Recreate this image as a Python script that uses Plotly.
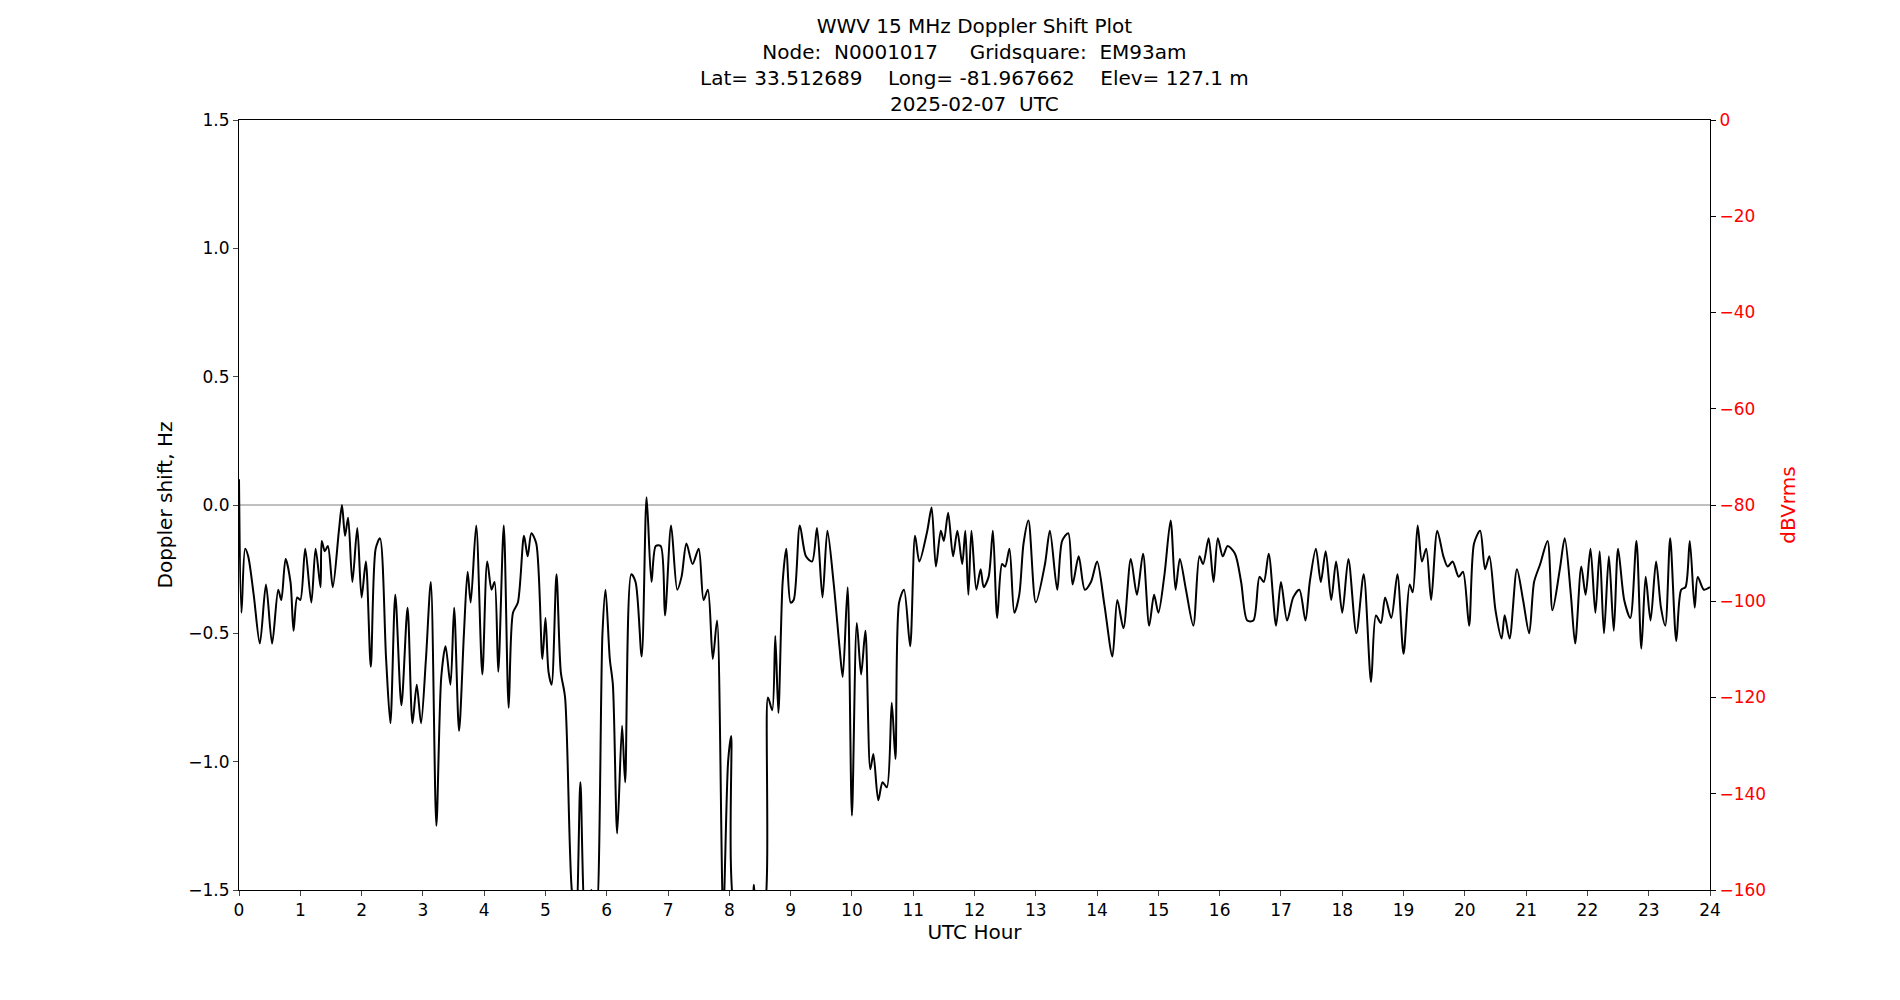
import plotly.graph_objects as go

hours = [0.0,0.04,0.1,0.15,0.24,0.34,0.44,0.54,0.64,0.69,0.76,0.84,0.89,0.95,1.0,1.08,1.18,1.25,1.33,1.35,1.4,1.45,1.53,1.63,1.68,1.73,1.78,1.85,1.93,2.0,2.07,2.15,2.23,2.3,2.4,2.47,2.55,2.65,2.75,2.83,2.9,2.97,3.05,3.13,3.22,3.3,3.37,3.45,3.51,3.59,3.67,3.73,3.78,3.87,3.97,4.05,4.12,4.17,4.23,4.32,4.4,4.47,4.55,4.65,4.71,4.77,4.85,4.95,5.0,5.05,5.1,5.18,5.25,5.32,5.43,5.5,5.57,5.65,5.75,5.83,5.93,5.98,6.05,6.1,6.17,6.25,6.3,6.4,6.47,6.57,6.65,6.73,6.8,6.88,6.95,7.05,7.15,7.22,7.3,7.4,7.5,7.58,7.65,7.73,7.8,7.9,7.98,8.03,8.12,8.35,8.4,8.45,8.55,8.63,8.7,8.75,8.8,8.87,8.93,9.0,9.05,9.15,9.25,9.35,9.43,9.52,9.6,9.7,9.8,9.85,9.93,10.0,10.08,10.15,10.22,10.3,10.35,10.43,10.5,10.57,10.65,10.71,10.77,10.85,10.95,11.03,11.1,11.23,11.3,11.37,11.45,11.5,11.57,11.65,11.72,11.8,11.85,11.9,11.95,12.03,12.1,12.15,12.23,12.3,12.37,12.45,12.5,12.57,12.65,12.73,12.8,12.88,13.0,13.15,13.23,13.35,13.43,13.53,13.6,13.7,13.8,13.9,14.0,14.12,14.25,14.33,14.43,14.55,14.65,14.75,14.85,14.93,15.0,15.1,15.2,15.28,15.35,15.45,15.57,15.67,15.73,15.82,15.9,15.97,16.05,16.13,16.25,16.35,16.45,16.55,16.65,16.72,16.8,16.92,17.0,17.1,17.2,17.3,17.4,17.47,17.57,17.65,17.73,17.82,17.9,18.0,18.1,18.23,18.35,18.47,18.55,18.63,18.7,18.8,18.9,19.0,19.1,19.15,19.23,19.3,19.37,19.45,19.55,19.65,19.72,19.8,19.9,19.97,20.07,20.15,20.25,20.33,20.4,20.5,20.6,20.65,20.73,20.85,20.95,21.05,21.13,21.23,21.35,21.43,21.55,21.63,21.73,21.8,21.9,21.97,22.05,22.13,22.2,22.27,22.35,22.43,22.5,22.6,22.7,22.8,22.88,22.95,23.03,23.12,23.2,23.27,23.35,23.45,23.53,23.6,23.67,23.75,23.8,23.9,24.0]
doppler = [0.1,-0.42,-0.17,-0.2,-0.35,-0.54,-0.31,-0.54,-0.33,-0.37,-0.21,-0.3,-0.49,-0.36,-0.37,-0.17,-0.38,-0.17,-0.32,-0.14,-0.18,-0.16,-0.32,-0.1,0.0,-0.12,-0.05,-0.3,-0.09,-0.36,-0.22,-0.63,-0.17,-0.13,-0.6,-0.85,-0.35,-0.78,-0.4,-0.85,-0.7,-0.85,-0.6,-0.3,-1.25,-0.67,-0.55,-0.7,-0.4,-0.88,-0.5,-0.26,-0.38,-0.08,-0.66,-0.22,-0.33,-0.3,-0.65,-0.08,-0.79,-0.42,-0.38,-0.12,-0.2,-0.11,-0.15,-0.6,-0.44,-0.65,-0.7,-0.27,-0.65,-0.75,-1.5,-1.6,-1.08,-1.6,-1.5,-1.6,-0.5,-0.33,-0.6,-0.7,-1.28,-0.86,-1.08,-0.27,-0.3,-0.59,0.03,-0.3,-0.16,-0.16,-0.43,-0.08,-0.33,-0.28,-0.15,-0.23,-0.17,-0.37,-0.33,-0.6,-0.45,-1.6,-1.0,-0.9,-1.6,-1.6,-1.48,-1.6,-1.6,-0.75,-0.8,-0.51,-0.81,-0.3,-0.17,-0.38,-0.37,-0.08,-0.2,-0.22,-0.09,-0.36,-0.1,-0.3,-0.56,-0.67,-0.32,-1.21,-0.46,-0.66,-0.49,-1.03,-0.97,-1.15,-1.08,-1.1,-0.77,-0.99,-0.38,-0.33,-0.55,-0.12,-0.22,-0.1,-0.01,-0.24,-0.1,-0.14,-0.03,-0.2,-0.1,-0.23,-0.1,-0.35,-0.1,-0.33,-0.25,-0.32,-0.28,-0.1,-0.44,-0.23,-0.24,-0.17,-0.42,-0.35,-0.15,-0.06,-0.38,-0.23,-0.1,-0.33,-0.14,-0.11,-0.31,-0.2,-0.33,-0.3,-0.22,-0.39,-0.59,-0.37,-0.48,-0.21,-0.35,-0.19,-0.47,-0.35,-0.42,-0.27,-0.06,-0.33,-0.21,-0.33,-0.47,-0.2,-0.23,-0.13,-0.3,-0.13,-0.2,-0.16,-0.19,-0.3,-0.45,-0.45,-0.28,-0.3,-0.19,-0.47,-0.3,-0.45,-0.36,-0.33,-0.45,-0.3,-0.17,-0.3,-0.18,-0.37,-0.22,-0.42,-0.21,-0.5,-0.27,-0.69,-0.43,-0.46,-0.36,-0.44,-0.27,-0.58,-0.31,-0.34,-0.08,-0.22,-0.17,-0.37,-0.1,-0.2,-0.24,-0.22,-0.28,-0.26,-0.47,-0.15,-0.1,-0.25,-0.2,-0.41,-0.52,-0.43,-0.52,-0.25,-0.37,-0.5,-0.3,-0.23,-0.14,-0.41,-0.25,-0.13,-0.35,-0.54,-0.24,-0.35,-0.17,-0.42,-0.18,-0.5,-0.2,-0.49,-0.17,-0.37,-0.44,-0.14,-0.56,-0.28,-0.45,-0.22,-0.4,-0.47,-0.13,-0.53,-0.33,-0.32,-0.14,-0.4,-0.28,-0.33,-0.32]

x_ticks = list(range(0, 25))
y_ticks = [-1.5, -1.0, -0.5, 0.0, 0.5, 1.0, 1.5]
y_tick_text = ["\u22121.5", "\u22121.0", "\u22120.5", "0.0", "0.5", "1.0", "1.5"]
y2_ticks = [-160, -140, -120, -100, -80, -60, -40, -20, 0]
y2_tick_text = [("\u2212" + str(-v)) if v < 0 else str(v) for v in y2_ticks]
title_lines = ["WWV 15 MHz Doppler Shift Plot",
               "Node:  N0001017     Gridsquare:  EM93am",
               "Lat= 33.512689    Long= -81.967662    Elev= 127.1 m",
               "2025-02-07  UTC"]

fig = go.Figure()
fig.add_trace(go.Scatter(x=hours, y=doppler, mode="lines",
                         line=dict(color="black", width=2, shape="spline", smoothing=0.8),
                         showlegend=False))
fig.add_trace(go.Scatter(x=[None], y=[None], yaxis="y2", showlegend=False))
fig.add_shape(type="line", xref="x", yref="y", x0=0, x1=24, y0=0, y1=0,
              line=dict(color="gray", width=1), layer="below")

font = dict(family="DejaVu Sans", size=17, color="black")
fig.update_layout(
    width=1900, height=1000, autosize=False,
    paper_bgcolor="white", plot_bgcolor="white",
    margin=dict(l=231, r=198, t=112, b=118),
    font=font,
    xaxis=dict(range=[0, 24], tickvals=x_ticks, ticks="outside", ticklen=5,
               showgrid=False, zeroline=False, showline=True, linecolor="black",
               mirror=True, title=dict(text="UTC Hour", standoff=4)),
    yaxis=dict(range=[-1.5, 1.5], tickvals=y_ticks, ticktext=y_tick_text,
               ticks="outside", ticklen=5, showgrid=False, zeroline=False,
               showline=True, linecolor="black", mirror=True,
               title=dict(text="Doppler shift, Hz", standoff=10)),
    yaxis2=dict(range=[-160, 0], overlaying="y", side="right",
                tickvals=y2_ticks, ticktext=y2_tick_text, ticks="outside",
                ticklen=5, tickcolor="black", tickfont=dict(color="red"),
                showgrid=False, zeroline=False, showline=False,
                title=dict(text="dBVrms", font=dict(color="red")), autorange=False),
)
fig.add_annotation(text="<br>".join(title_lines), xref="paper", yref="paper",
                   x=0.5, y=1, yanchor="bottom", showarrow=False, yshift=2,
                   font=dict(family="DejaVu Sans", size=20, color="black"))
fig.write_html("out.html")
